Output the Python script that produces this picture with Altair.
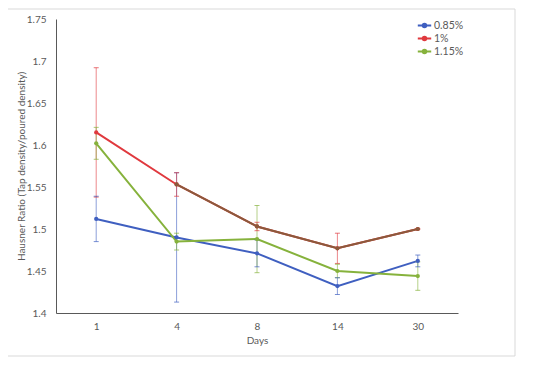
import altair as alt
import pandas as pd

days = ["1", "4", "8", "14", "30"]
series = ["0.85%", "1%", "1.15%"]
v085 = [1.512, 1.490, 1.471, 1.432, 1.462]
e085 = [0.027, 0.077, 0.016, 0.010, 0.007]
v1 = [1.615, 1.553, 1.503, 1.477, 1.500]
e1 = [0.077, 0.014, 0.005, 0.018, 0.0]
v115 = [1.602, 1.485, 1.488, 1.450, 1.444]
e115 = [0.019, 0.010, 0.040, 0.008, 0.017]
colors = ["#3F5FC0", "#E0393E", "#86B23C"]
brown = "#8B5A3C"

rows = []
for s, vals, errs in zip(series, [v085, v1, v115], [e085, e1, e115]):
    for d, v, e in zip(days, vals, errs):
        rows.append({"day": d, "series": s, "value": v, "lo": v - e, "hi": v + e})
df = pd.DataFrame(rows)

FONT = "Lato"
xenc = alt.X("day:N", sort=days, title="Days",
             scale=alt.Scale(type="point", padding=0.5),
             axis=alt.Axis(labelAngle=0, ticks=False, grid=False, domainColor="#595959",
                           labelPadding=8, titlePadding=4))
yscale = alt.Scale(domain=[1.4, 1.75], nice=False, zero=False)
color = alt.Color("series:N", scale=alt.Scale(domain=series, range=colors),
                  legend=alt.Legend(title=None, orient="none", legendX=363, legendY=1,
                                    symbolType="M-1.5,0H1.5M-0.4,0A0.4,0.4,0,1,1,0.4,0A0.4,0.4,0,1,1,-0.4,0",
                                    symbolSize=80, symbolStrokeWidth=2, symbolOpacity=1,
                                    rowPadding=0, labelFontSize=10.5, labelOffset=4))

base = alt.Chart(df)

lines = base.mark_line(strokeWidth=2).encode(
    x=xenc,
    y=alt.Y("value:Q", scale=yscale, title="Hausner Ratio (Tap density/poured density)",
            axis=alt.Axis(values=[1.4, 1.45, 1.5, 1.55, 1.6, 1.65, 1.7, 1.75], format=".2~f",
                          ticks=False, grid=False, domainColor="#595959", labelPadding=10,
                          titlePadding=0)),
    color=color,
    order=alt.Order("series:N"),
)

brown_line = base.transform_filter(
    (alt.datum.series == "1%") & (alt.datum.day != "1")
).mark_line(strokeWidth=2, color=brown).encode(x=xenc, y=alt.Y("value:Q", scale=yscale))

bars = base.mark_rule(strokeWidth=1, opacity=0.6).encode(
    x=xenc, y=alt.Y("lo:Q", scale=yscale), y2="hi:Q", color=color)
caps_lo = base.mark_tick(orient="horizontal", size=5, thickness=1, opacity=0.7).encode(
    x=xenc, y=alt.Y("lo:Q", scale=yscale), color=color)
caps_hi = base.mark_tick(orient="horizontal", size=5, thickness=1, opacity=0.7).encode(
    x=xenc, y=alt.Y("hi:Q", scale=yscale), color=color)

points = base.mark_circle(size=18, opacity=1).encode(
    x=xenc, y=alt.Y("value:Q", scale=yscale), color=color)
brown_pts = base.transform_filter(
    (alt.datum.series == "1%") & (alt.datum.day != "1")
).mark_circle(size=18, opacity=1, color=brown).encode(x=xenc, y=alt.Y("value:Q", scale=yscale))

frame = alt.Chart(pd.DataFrame({"a": [0]})).mark_rect(
    fill=None, stroke="#d9d9d9", strokeWidth=1).encode(
    x=alt.value(-49), x2=alt.value(459), y=alt.value(-10), y2=alt.value(337))

chart = alt.layer(frame, lines, bars, caps_lo, caps_hi, brown_line, points, brown_pts).properties(
    width=402, height=294,
    autosize=alt.AutoSizeParams(type="none"),
    padding={"left": 48, "top": 11, "right": 60, "bottom": 45},
).configure_view(stroke=None).configure_axis(
    labelFont=FONT, titleFont=FONT, labelFontSize=10, titleFontSize=10,
    labelColor="#595959", titleColor="#595959", titleFontWeight="normal",
).configure_legend(labelFont=FONT, labelColor="#595959")

chart.save("out.html", embed_options={"renderer": "svg", "actions": False})
